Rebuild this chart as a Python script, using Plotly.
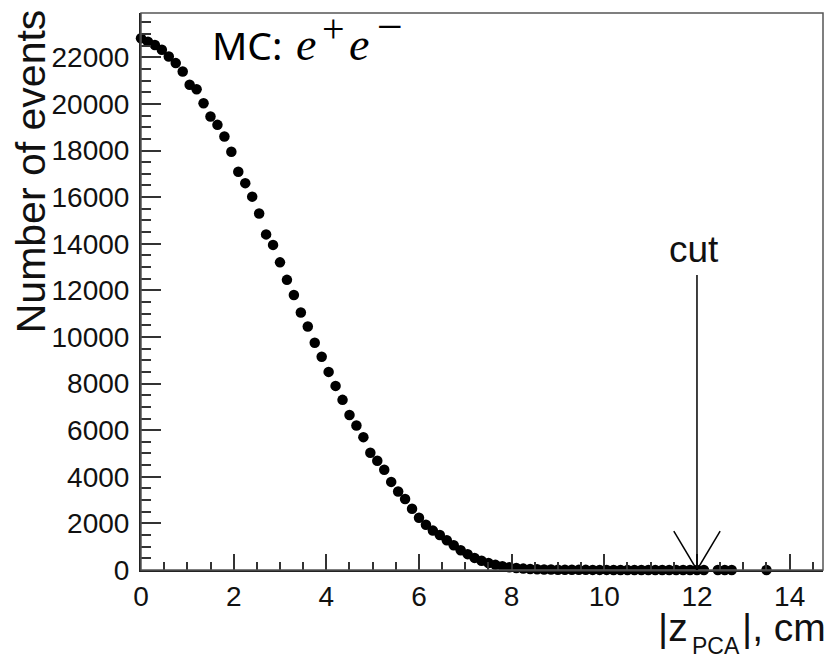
import plotly.graph_objects as go

# bin positions (cm) and counts
z_main = [round(0.15 * i, 2) for i in range(81)]
counts_main = [22820, 22670, 22530, 22320, 22030, 21750, 21390, 20820, 20630, 20030,
               19460, 19100, 18600, 17950, 17090, 16600, 16020, 15300, 14400, 13950,
               13200, 12450, 11800, 11050, 10450, 9750, 9150, 8500, 7900, 7300,
               6650, 6200, 5700, 5030, 4690, 4300, 3780, 3370, 3050, 2630,
               2240, 1940, 1690, 1500, 1280, 1060, 850, 680, 520, 400,
               300, 220, 160, 115, 85, 60, 45, 33, 25, 18,
               14, 10, 8, 7, 6, 5, 4, 4, 3, 3,
               2, 2, 2, 1, 1, 1, 1, 1, 1, 1, 1]
z_tail = [12.15, 12.45, 12.6, 12.75, 13.5]
counts_tail = [1, 1, 1, 1, 1]

cut_value = 12.0
cut_label = "cut"
x_title_main = "|z"
x_title_sub = "PCA"
x_title_end = "|, cm"
y_title = "Number of events"
mc_text = "MC:"
mc_particles = ["e", "+", "e", "\u2212"]

x_range = [0, 14.72]
y_range = [0, 23900]

SANS = "Liberation Sans, Arial, sans-serif"
SERIF = "Liberation Serif, serif"

fig = go.Figure()
fig.add_trace(go.Scatter(
    x=z_main + z_tail, y=counts_main + counts_tail, mode="markers",
    marker=dict(color="black", size=10.5), cliponaxis=False, showlegend=False))

tickfont = dict(family=SANS, size=28, color="#111")

fig.update_layout(
    width=836, height=658,
    margin=dict(l=141, r=13, t=13, b=88),
    paper_bgcolor="white", plot_bgcolor="white",
    xaxis=dict(range=x_range, showgrid=False, zeroline=False,
               showline=True, linecolor="#222", linewidth=2,
               ticks="inside", ticklen=16, tickwidth=1.5, tickcolor="#333",
               tick0=0, dtick=2, tickfont=tickfont, ticklabelstandoff=0,
               minor=dict(ticks="inside", ticklen=8, tickwidth=1.5, tickcolor="#333", dtick=0.5)),
    yaxis=dict(range=y_range, showgrid=False, zeroline=False,
               showline=True, linecolor="#222", linewidth=2,
               ticks="inside", ticklen=20, tickwidth=1.5, tickcolor="#333",
               tick0=0, dtick=2000, tickformat="d", tickfont=tickfont, ticklabelstandoff=4,
               minor=dict(ticks="inside", ticklen=10, tickwidth=1.5, tickcolor="#333", dtick=500)),
)

# frame (top and right sides)
fig.add_shape(type="rect", xref="paper", yref="paper", x0=0, x1=1, y0=0, y1=1,
              line=dict(color="#555", width=1.5), layer="above")

# cut arrow
arm_dx = 0.5
arm_dy = 1670
fig.add_shape(type="line", x0=cut_value, x1=cut_value, y0=0, y1=12660,
              line=dict(color="black", width=1.5))
fig.add_shape(type="line", x0=cut_value, x1=cut_value - arm_dx, y0=0, y1=arm_dy,
              line=dict(color="black", width=1.5))
fig.add_shape(type="line", x0=cut_value, x1=cut_value + arm_dx, y0=0, y1=arm_dy,
              line=dict(color="black", width=1.5))
fig.add_annotation(x=cut_value, y=12660, xref="x", yref="y", text=cut_label,
                   showarrow=False, yanchor="bottom", yshift=3, xshift=-3,
                   font=dict(family=SANS, size=37, color="#111"))

# MC label, built from pieces (pixel positions -> paper fraction)
def px_to_paper(px):
    return (px - 141.5) / 681.5

fig.add_annotation(x=px_to_paper(210), y=1.0, xref="paper", yref="paper", text=mc_text,
                   showarrow=False, xanchor="left", yanchor="top", yshift=-3,
                   font=dict(family="Noto Sans, Open Sans, sans-serif", size=39, color="black"))
piece_x = [294, 320, 347, 375]
piece_size = [46, 40, 46, 46]
piece_yshift = [-4, 9, -4, 14]
for txt, px, sz, ys in zip(mc_particles, piece_x, piece_size, piece_yshift):
    label = "<i>%s</i>" % txt if txt == "e" else txt
    fig.add_annotation(x=px_to_paper(px), y=1.0, xref="paper", yref="paper", text=label,
                       showarrow=False, xanchor="left", yanchor="top", yshift=ys,
                       font=dict(family=SERIF, size=sz, color="black"))

# x axis title (pieces)
fig.add_annotation(x=1, y=0, xref="paper", yref="paper", text=x_title_end,
                   showarrow=False, xanchor="right", yanchor="top", xshift=5, yshift=-34,
                   font=dict(family=SANS, size=39, color="#111"))
fig.add_annotation(x=px_to_paper(690), y=0, xref="paper", yref="paper", text=x_title_sub,
                   showarrow=False, xanchor="left", yanchor="top", yshift=-61,
                   font=dict(family=SANS, size=23, color="#111"))
fig.add_annotation(x=px_to_paper(690), y=0, xref="paper", yref="paper", text=x_title_main,
                   showarrow=False, xanchor="right", yanchor="top", yshift=-34,
                   font=dict(family=SANS, size=39, color="#111"))

# y axis title
fig.add_annotation(x=-0.162, y=0.715, xref="paper", yref="paper", text=y_title,
                   showarrow=False, textangle=-90, xanchor="center", yanchor="middle",
                   font=dict(family=SANS, size=41, color="#111"))

fig.write_html("out.html")
